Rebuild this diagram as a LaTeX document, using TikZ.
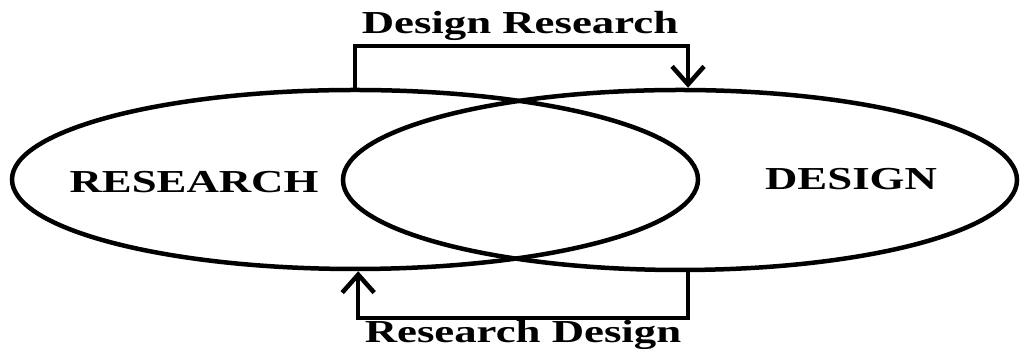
\documentclass[tikz,border=0pt]{standalone}
\usepackage{fontspec}
\setmainfont{Liberation Serif}
\usetikzlibrary{shapes.geometric,arrows.meta}
\tikzset{
  circ/.style={ellipse,draw,line width=4.5pt,inner sep=0pt},
  lbl/.style={font=\fontsize{32}{36}\selectfont\bfseries,inner sep=0pt,anchor=base},
  conn/.style={line width=4.5pt,line join=miter},
  arr/.style={conn,-{Straight Barb[length=18pt,width=32pt,line width=4.5pt]}}
}
\newcommand{\wide}[1]{\scalebox{1.4}[1]{#1}}
\begin{document}
\begin{tikzpicture}[x=1pt,y=1pt]
\useasboundingbox (0,0) rectangle (1021,352);
\node[circ,minimum width=686pt,minimum height=179pt] (res) at (355,172.5) {};
\node[circ,minimum width=674pt,minimum height=180pt] (des) at (680,172) {};
\node[lbl] (tres) at (194,159.3) {\wide{RESEARCH}};
\node[lbl] (tdes) at (851,162) {\wide{DESIGN}};
\node[lbl] (tdr) at (520,318) {\wide{Design Research}};
\node[lbl] (trd) at (523,9) {\wide{Research Design}};
\coordinate (top) at (0,306);
\coordinate (bot) at (0,34);
\draw[arr] (res.north) -- (res.north |- top) -| (des.85.6);
\draw[arr] (des.-85.6) -- (des.-85.6 |- bot) -| (res.-88.1);
\end{tikzpicture}
\end{document}
